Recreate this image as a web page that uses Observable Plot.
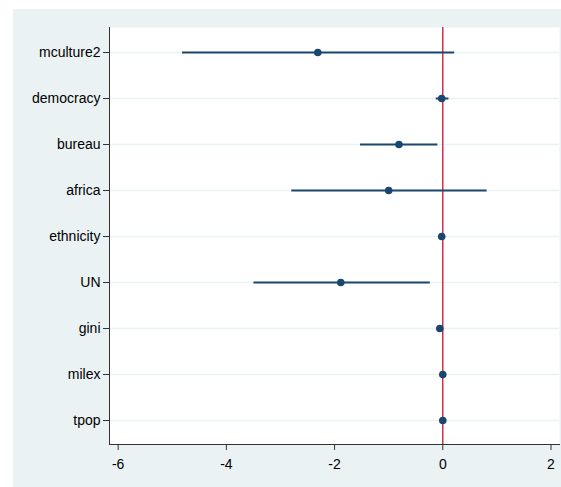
<!DOCTYPE html>
<html>
<head>
<meta charset="utf-8">
<script src="https://cdn.jsdelivr.net/npm/d3@7"></script>
<script src="https://cdn.jsdelivr.net/npm/@observablehq/plot@0.6"></script>
<style>
  html, body { margin: 0; padding: 0; background: #ffffff; }
  #wrap { position: relative; width: 561px; height: 487px; }
  #panel { position: absolute; left: 13px; top: 9px; width: 548px; height: 478px; background: #eaf2f3; }
  #chart { position: absolute; left: 0; top: 0; }
  #chart svg { background: transparent !important; }
</style>
</head>
<body>
<div id="wrap"><div id="panel"></div><div id="chart"></div></div>
<script>
const variables = ["mculture2", "democracy", "bureau", "africa", "ethnicity", "UN", "gini", "milex", "tpop"];
const estimates = [-2.31, -0.02, -0.81, -1.00, -0.02, -1.885, -0.055, 0.00, 0.00];
const lower =     [-4.82, -0.13, -1.53, -2.80, -0.04, -3.50, -0.075, -0.01, -0.01];
const upper =     [ 0.21,  0.105, -0.10, 0.81, 0.00, -0.24, -0.035, 0.01, 0.01];
const xTicks = [-6, -4, -2, 0, 2];

const rows = variables.map((v, i) => ({name: v, est: estimates[i], lo: lower[i], hi: upper[i]}));

const navy = "#1a476f";
const chart = Plot.plot({
  width: 561,
  height: 487,
  marginLeft: 109,
  marginRight: 2,
  marginTop: 27,
  marginBottom: 43,
  style: {fontFamily: "'Liberation Sans', Arial, sans-serif", fontSize: "14px", color: "#000", background: "transparent"},
  x: {domain: [-6.16, 2.157], ticks: xTicks},
  y: {type: "point", domain: variables, range: [50.7, 422], padding: 0},
  marks: [
    Plot.frame({fill: "white", stroke: null}),
    Plot.ruleY(variables, {y: d => d, stroke: "#eaf2f3", strokeWidth: 1.5}),
    Plot.ruleX([0], {stroke: "#c8102e", strokeWidth: 1.3}),
    Plot.link(rows, {x1: "lo", x2: "hi", y1: "name", y2: "name", stroke: navy, strokeWidth: 2}),
    Plot.dot(rows, {x: "est", y: "name", r: 3.8, fill: navy, stroke: null}),
    Plot.frame({anchor: "left", stroke: "#333", strokeWidth: 1}),
    Plot.frame({anchor: "bottom", stroke: "#333", strokeWidth: 1}),
    Plot.axisX(xTicks, {tickSize: 6, tickPadding: 9, fontSize: 14, label: null, stroke: "#333", tickFormat: d => String(d)}),
    Plot.axisY({tickSize: 6, tickPadding: 3, fontSize: 14, label: null, stroke: "#333"})
  ]
});
document.getElementById("chart").appendChild(chart);
</script>
</body>
</html>
